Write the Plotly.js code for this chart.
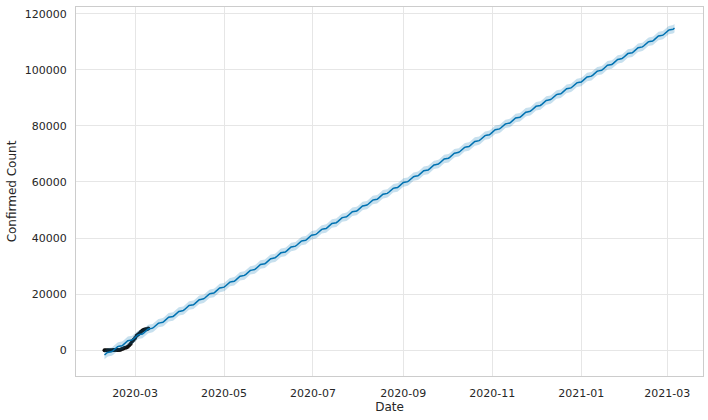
<!DOCTYPE html>
<html>
<head>
<meta charset="utf-8">
<script src="https://cdn.plot.ly/plotly-3.0.1.min.js"></script>
<style>html,body{margin:0;padding:0;background:#fff;}#chart{width:708px;height:420px;}</style>
</head>
<body>
<div id="chart"></div>
<script>
// Observed data points (history)
const historyStart = '2020-02-09';
const historyValues = [27,28,28,28,28,28,29,30,31,31,104,204,433,602,833,977,1261,1766,2337,3150,3736,4335,5186,5621,6088,6593,7041,7314,7478,7513,7755];

// Forecast (daily, starting forecastStart)
const forecastStart = '2020-02-09';
const yhat = [
-1700,-1150,-800,-700,-650,-500,-100,
390,940,1290,1390,1440,1590,1990,
2480,3030,3380,3480,3530,3680,4080,
4570,5120,5470,5570,5620,5770,6170,
6660,7210,7560,7660,7710,7860,8260,
8750,9300,9650,9750,9800,9950,10350,
10840,11390,11740,11840,11890,12040,12440,
12930,13480,13830,13930,13980,14130,14530,
15020,15570,15920,16020,16070,16220,16620,
17110,17660,18010,18110,18160,18310,18710,
19200,19750,20100,20200,20250,20400,20800,
21290,21840,22190,22290,22340,22490,22890,
23380,23930,24280,24380,24430,24580,24980,
25470,26020,26370,26470,26520,26670,27070,
27560,28110,28460,28560,28610,28760,29160,
29650,30200,30550,30650,30700,30850,31250,
31740,32290,32640,32740,32790,32940,33340,
33830,34380,34730,34830,34880,35030,35430,
35920,36470,36820,36920,36970,37120,37520,
38010,38560,38910,39010,39060,39210,39610,
40100,40650,41000,41100,41150,41300,41700,
42190,42740,43090,43190,43240,43390,43790,
44280,44830,45180,45280,45330,45480,45880,
46370,46920,47270,47370,47420,47570,47970,
48460,49010,49360,49460,49510,49660,50060,
50550,51100,51450,51550,51600,51750,52150,
52640,53190,53540,53640,53690,53840,54240,
54730,55280,55630,55730,55780,55930,56330,
56820,57370,57720,57820,57870,58020,58420,
58910,59460,59810,59910,59960,60110,60510,
61000,61550,61900,62000,62050,62200,62600,
63090,63640,63990,64090,64140,64290,64690,
65180,65730,66080,66180,66230,66380,66780,
67270,67820,68170,68270,68320,68470,68870,
69360,69910,70260,70360,70410,70560,70960,
71450,72000,72350,72450,72500,72650,73050,
73540,74090,74440,74540,74590,74740,75140,
75630,76180,76530,76630,76680,76830,77230,
77720,78270,78620,78720,78770,78920,79320,
79810,80360,80710,80810,80860,81010,81410,
81900,82450,82800,82900,82950,83100,83500,
83990,84540,84890,84990,85040,85190,85590,
86080,86630,86980,87080,87130,87280,87680,
88170,88720,89070,89170,89220,89370,89770,
90260,90810,91160,91260,91310,91460,91860,
92350,92900,93250,93350,93400,93550,93950,
94440,94990,95340,95440,95490,95640,96040,
96530,97080,97430,97530,97580,97730,98130,
98620,99170,99520,99620,99670,99820,100220,
100710,101260,101610,101710,101760,101910,102310,
102800,103350,103700,103800,103850,104000,104400,
104890,105440,105790,105890,105940,106090,106490,
106980,107530,107880,107980,108030,108180,108580,
109070,109620,109970,110070,110120,110270,110670,
111160,111710,112060,112160,112210,112360,112760,
113250,113800,114150,114250,114300,114450,114850
];
const yhatLower = [
-3200,-2650,-2300,-2200,-2150,-2000,-1600,
-1110,-560,-210,-110,-60,90,490,
980,1530,1880,1980,2030,2180,2580,
3070,3620,3970,4070,4120,4270,4670,
5160,5710,6060,6160,6210,6360,6760,
7250,7800,8150,8250,8300,8450,8850,
9340,9890,10240,10340,10390,10540,10940,
11430,11980,12330,12430,12480,12630,13030,
13520,14070,14420,14520,14570,14720,15120,
15610,16160,16510,16610,16660,16810,17210,
17700,18250,18600,18700,18750,18900,19300,
19790,20340,20690,20790,20840,20990,21390,
21880,22430,22780,22880,22930,23080,23480,
23970,24520,24870,24970,25020,25170,25570,
26060,26610,26960,27060,27110,27260,27660,
28150,28700,29050,29150,29200,29350,29750,
30240,30790,31140,31240,31290,31440,31840,
32330,32880,33230,33330,33380,33530,33930,
34420,34970,35320,35420,35470,35620,36020,
36510,37060,37410,37510,37560,37710,38110,
38600,39150,39500,39600,39650,39800,40200,
40690,41240,41590,41690,41740,41890,42290,
42780,43330,43680,43780,43830,43980,44380,
44870,45420,45770,45870,45920,46070,46470,
46960,47510,47860,47960,48010,48160,48560,
49050,49600,49950,50050,50100,50250,50650,
51140,51690,52040,52140,52190,52340,52740,
53230,53780,54130,54230,54280,54430,54830,
55320,55870,56220,56320,56370,56520,56920,
57410,57960,58310,58410,58460,58610,59010,
59500,60050,60400,60500,60550,60700,61100,
61590,62140,62490,62590,62640,62790,63190,
63680,64230,64580,64680,64730,64880,65280,
65770,66320,66670,66770,66820,66970,67370,
67860,68410,68760,68860,68910,69060,69460,
69950,70500,70850,70950,71000,71150,71550,
72040,72590,72940,73040,73090,73240,73640,
74130,74680,75030,75130,75180,75330,75730,
76220,76770,77120,77220,77270,77420,77820,
78310,78860,79210,79310,79360,79510,79910,
80400,80950,81300,81400,81450,81600,82000,
82490,83040,83390,83490,83540,83690,84090,
84580,85130,85480,85580,85630,85780,86180,
86670,87220,87570,87670,87720,87870,88270,
88760,89310,89660,89760,89810,89960,90360,
90850,91400,91750,91850,91900,92050,92450,
92940,93490,93840,93940,93990,94140,94540,
95030,95580,95930,96030,96080,96230,96630,
97120,97670,98020,98120,98170,98320,98720,
99210,99760,100110,100210,100260,100410,100810,
101300,101850,102200,102300,102350,102500,102900,
103390,103940,104290,104390,104440,104590,104990,
105480,106030,106380,106480,106530,106680,107080,
107570,108120,108470,108570,108620,108770,109170,
109660,110210,110560,110660,110710,110860,111260,
111750,112300,112650,112750,112800,112950,113350
];
const yhatUpper = [
-200,350,700,800,850,1000,1400,
1890,2440,2790,2890,2940,3090,3490,
3980,4530,4880,4980,5030,5180,5580,
6070,6620,6970,7070,7120,7270,7670,
8160,8710,9060,9160,9210,9360,9760,
10250,10800,11150,11250,11300,11450,11850,
12340,12890,13240,13340,13390,13540,13940,
14430,14980,15330,15430,15480,15630,16030,
16520,17070,17420,17520,17570,17720,18120,
18610,19160,19510,19610,19660,19810,20210,
20700,21250,21600,21700,21750,21900,22300,
22790,23340,23690,23790,23840,23990,24390,
24880,25430,25780,25880,25930,26080,26480,
26970,27520,27870,27970,28020,28170,28570,
29060,29610,29960,30060,30110,30260,30660,
31150,31700,32050,32150,32200,32350,32750,
33240,33790,34140,34240,34290,34440,34840,
35330,35880,36230,36330,36380,36530,36930,
37420,37970,38320,38420,38470,38620,39020,
39510,40060,40410,40510,40560,40710,41110,
41600,42150,42500,42600,42650,42800,43200,
43690,44240,44590,44690,44740,44890,45290,
45780,46330,46680,46780,46830,46980,47380,
47870,48420,48770,48870,48920,49070,49470,
49960,50510,50860,50960,51010,51160,51560,
52050,52600,52950,53050,53100,53250,53650,
54140,54690,55040,55140,55190,55340,55740,
56230,56780,57130,57230,57280,57430,57830,
58320,58870,59220,59320,59370,59520,59920,
60410,60960,61310,61410,61460,61610,62010,
62500,63050,63400,63500,63550,63700,64100,
64590,65140,65490,65590,65640,65790,66190,
66680,67230,67580,67680,67730,67880,68280,
68770,69320,69670,69770,69820,69970,70370,
70860,71410,71760,71860,71910,72060,72460,
72950,73500,73850,73950,74000,74150,74550,
75040,75590,75940,76040,76090,76240,76640,
77130,77680,78030,78130,78180,78330,78730,
79220,79770,80120,80220,80270,80420,80820,
81310,81860,82210,82310,82360,82510,82910,
83400,83950,84300,84400,84450,84600,85000,
85490,86040,86390,86490,86540,86690,87090,
87580,88130,88480,88580,88630,88780,89180,
89670,90220,90570,90670,90720,90870,91270,
91760,92310,92660,92760,92810,92960,93360,
93850,94400,94750,94850,94900,95050,95450,
95940,96490,96840,96940,96990,97140,97540,
98030,98580,98930,99030,99080,99230,99630,
100120,100670,101020,101120,101170,101320,101720,
102210,102760,103110,103210,103260,103410,103810,
104300,104850,105200,105300,105350,105500,105900,
106390,106940,107290,107390,107440,107590,107990,
108480,109030,109380,109480,109530,109680,110080,
110570,111120,111470,111570,111620,111770,112170,
112660,113210,113560,113660,113710,113860,114260,
114750,115300,115650,115750,115800,115950,116350
];
const yTicks = [0,20000,40000,60000,80000,100000,120000];

function dailyDates(start, n) {
  const out = [];
  const d0 = new Date(start + 'T00:00:00Z');
  for (let i = 0; i < n; i++) {
    const d = new Date(d0.getTime() + i * 86400000);
    out.push(d.toISOString().slice(0, 10));
  }
  return out;
}
const histDates = dailyDates(historyStart, historyValues.length);
const fcDates = dailyDates(forecastStart, yhat.length);

const traces = [
  {x: histDates, y: historyValues, type: 'scatter', mode: 'markers',
   marker: {color: '#111111', size: 4}, name: 'Observed data points'},
  {x: fcDates, y: yhat, type: 'scatter', mode: 'lines',
   line: {color: '#0072B2', width: 1.5}, name: 'Forecast'},
  {x: fcDates, y: yhatLower, type: 'scatter', mode: 'lines',
   line: {width: 0, color: 'rgba(0,0,0,0)'}, showlegend: false, name: 'lower'},
  {x: fcDates, y: yhatUpper, type: 'scatter', mode: 'lines', fill: 'tonexty',
   fillcolor: 'rgba(0,114,178,0.22)', line: {width: 0, color: 'rgba(0,0,0,0)'},
   showlegend: false, name: 'Uncertainty interval'}
];

const layout = {
  width: 708, height: 420,
  margin: {l: 76, r: 5, t: 7, b: 44},
  paper_bgcolor: '#ffffff', plot_bgcolor: '#ffffff',
  showlegend: false,
  font: {family: 'DejaVu Sans, sans-serif', size: 11, color: '#262626'},
  xaxis: {
    type: 'date',
    range: ['2020-01-20 10:48', '2021-03-25 13:12'],
    tick0: '2020-01-01', dtick: 'M2', tickformat: '%Y-%m',
    showgrid: true, gridcolor: '#e6e6e6', gridwidth: 1,
    showline: true, linecolor: '#cccccc', linewidth: 1, mirror: true,
    ticks: '', zeroline: false, ticklabelstandoff: 7,
    tickfont: {size: 11, color: '#262626'},
    title: {text: 'Date', font: {size: 12, color: '#262626'}, standoff: 1}
  },
  yaxis: {
    range: [-9200, 122400],
    tickvals: yTicks, tickformat: 'd',
    showgrid: true, gridcolor: '#e6e6e6', gridwidth: 1,
    showline: true, linecolor: '#cccccc', linewidth: 1, mirror: true,
    ticks: '', zeroline: false, ticklabelstandoff: 6,
    tickfont: {size: 11, color: '#262626'},
    title: {text: 'Confirmed Count', font: {size: 12, color: '#262626'}, standoff: 5}
  }
};

Plotly.newPlot('chart', traces, layout, {displayModeBar: false, staticPlot: true});
</script>
</body>
</html>
